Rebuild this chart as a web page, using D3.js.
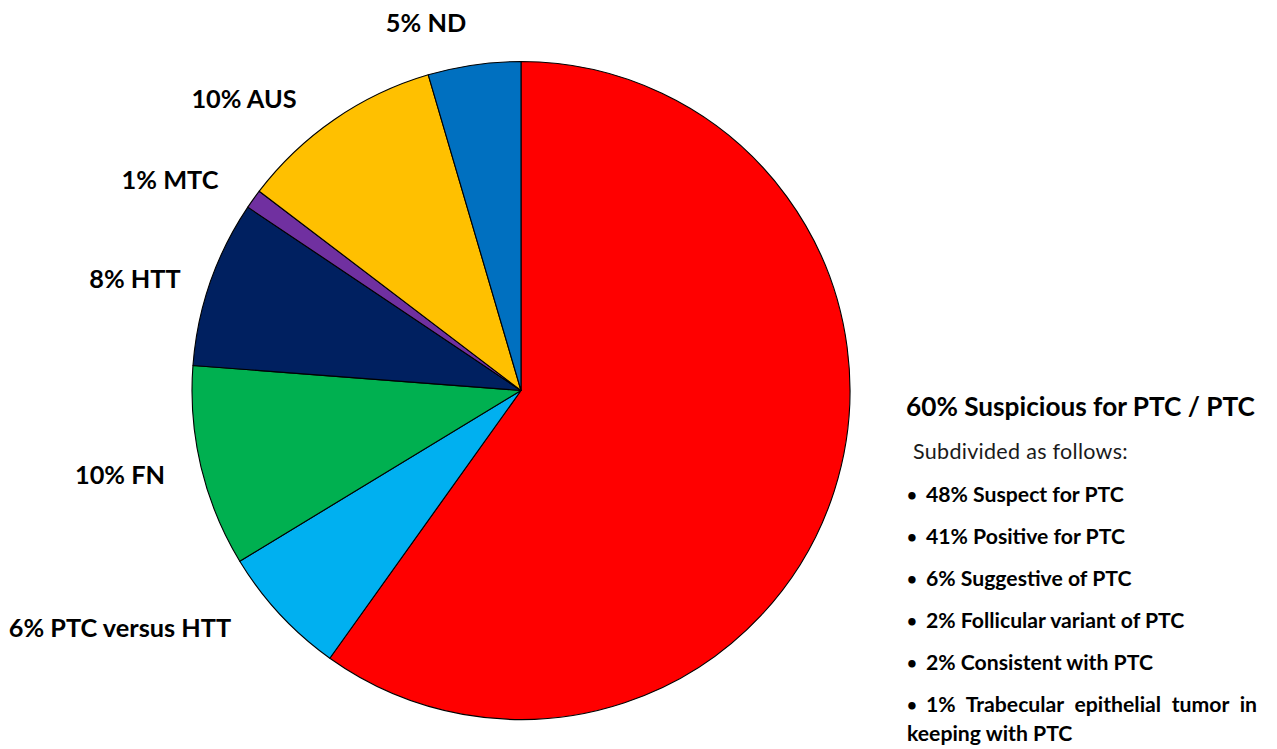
<!DOCTYPE html>
<html>
<head>
<meta charset="utf-8">
<script src="https://cdn.jsdelivr.net/npm/d3@7"></script>
<style>
  html, body { margin: 0; padding: 0; background: #ffffff; }
  svg { display: block; }
  text { font-family: Lato, "Open Sans", "Noto Sans", sans-serif; }
</style>
</head>
<body>
<svg id="chart" width="1277" height="749"></svg>
<script>
// ---- data ----
const categories = ["Suspicious for PTC / PTC", "PTC versus HTT", "FN", "HTT", "MTC", "AUS", "ND"];
const values = [59.9, 6.45, 9.9, 8.2, 0.95, 10.1, 4.55];
const sliceColors = ["#FF0000", "#00B0F0", "#00B050", "#002060", "#7030A0", "#FFC000", "#0070C0"];
const subtitle = "Subdivided as follows:";
const subCategories = ["Suspect for PTC", "Positive for PTC", "Suggestive of PTC", "Follicular variant of PTC", "Consistent with PTC", "Trabecular epithelial tumor in keeping with PTC"];
const subValues = [48, 41, 6, 2, 2, 1];

// ---- layout ----
const W = 1277, H = 749;
const cx = 521, cy = 390.5, R = 329;
// outside label anchors (middle x, baseline y) for slices 1..6
const labelPos = [null, [120, 637], [120, 484], [135, 288], [170, 189], [244, 108], [426, 32]];

const svg = d3.select("#chart");
svg.append("rect").attr("width", W).attr("height", H).attr("fill", "#fff");

const data = categories.map((c, i) => ({ cat: c, val: values[i], color: sliceColors[i], idx: i }));
const pie = d3.pie().sort(null).value(d => d.val);
const arc = d3.arc().innerRadius(0).outerRadius(R);

const g = svg.append("g").attr("transform", `translate(${cx},${cy})`);
g.selectAll("path").data(pie(data)).join("path")
  .attr("d", arc)
  .attr("fill", d => d.data.color)
  .attr("stroke", "#000")
  .attr("stroke-width", 1.1)
  .attr("stroke-linejoin", "round");

// slice labels
const fmt = v => `${Math.round(v)}%`;
svg.selectAll("text.slabel").data(data.filter(d => d.idx > 0)).join("text")
  .attr("class", "slabel")
  .attr("x", d => labelPos[d.idx][0])
  .attr("y", d => labelPos[d.idx][1])
  .attr("text-anchor", "middle")
  .attr("font-weight", "bold")
  .attr("font-size", 25.3)
  .attr("fill", "#000")
  .text(d => `${fmt(d.val)} ${d.cat}`);

// right-side block for the big slice
const rx = 906;
svg.append("text")
  .attr("x", rx).attr("y", 416)
  .attr("font-weight", "bold").attr("font-size", 26.2).attr("fill", "#000")
  .text(`${fmt(values[0])} ${categories[0]}`);
svg.append("text")
  .attr("x", rx + 7).attr("y", 459)
  .attr("font-size", 21.5).attr("fill", "#1a1a1a")
  .attr("letter-spacing", 0.3)
  .text(subtitle);

const lineStep = 42;
const bfs = 21.2;
function bulletLine(y, str) {
  const t = svg.append("text").attr("x", rx + 1).attr("y", y)
    .attr("font-weight", "bold").attr("font-size", bfs).attr("fill", "#000");
  t.append("tspan").attr("font-size", bfs * 0.8).attr("dy", -1).text("\u2022");
  t.append("tspan").attr("x", rx + 20).attr("dy", 1).text(str);
  return t;
}
subCategories.forEach((c, i) => {
  const y = 502 + i * lineStep;
  if (i < subCategories.length - 1) {
    bulletLine(y, `${fmt(subValues[i])} ${c}`);
  } else {
    const parts = c.split(" in ");
    const str = `${fmt(subValues[i])} ${parts[0]} in`;
    const t = bulletLine(y, str);
    // justify to the right edge by widening word gaps
    const span = t.select("tspan:last-child");
    const target = 1257;
    const gaps = str.split(" ").length - 1;
    let ws = 0;
    for (let k = 0; k < 4; k++) {
      const bb = t.node().getBBox();
      const extra = target - (bb.x + bb.width);
      if (Math.abs(extra) < 0.5) break;
      ws = Math.max(0, ws + extra / gaps);
      span.attr("word-spacing", ws);
    }
    svg.append("text")
      .attr("x", rx + 1).attr("y", y + 29)
      .attr("font-weight", "bold").attr("font-size", bfs).attr("fill", "#000")
      .text(parts[1]);
  }
});
</script>
</body>
</html>
